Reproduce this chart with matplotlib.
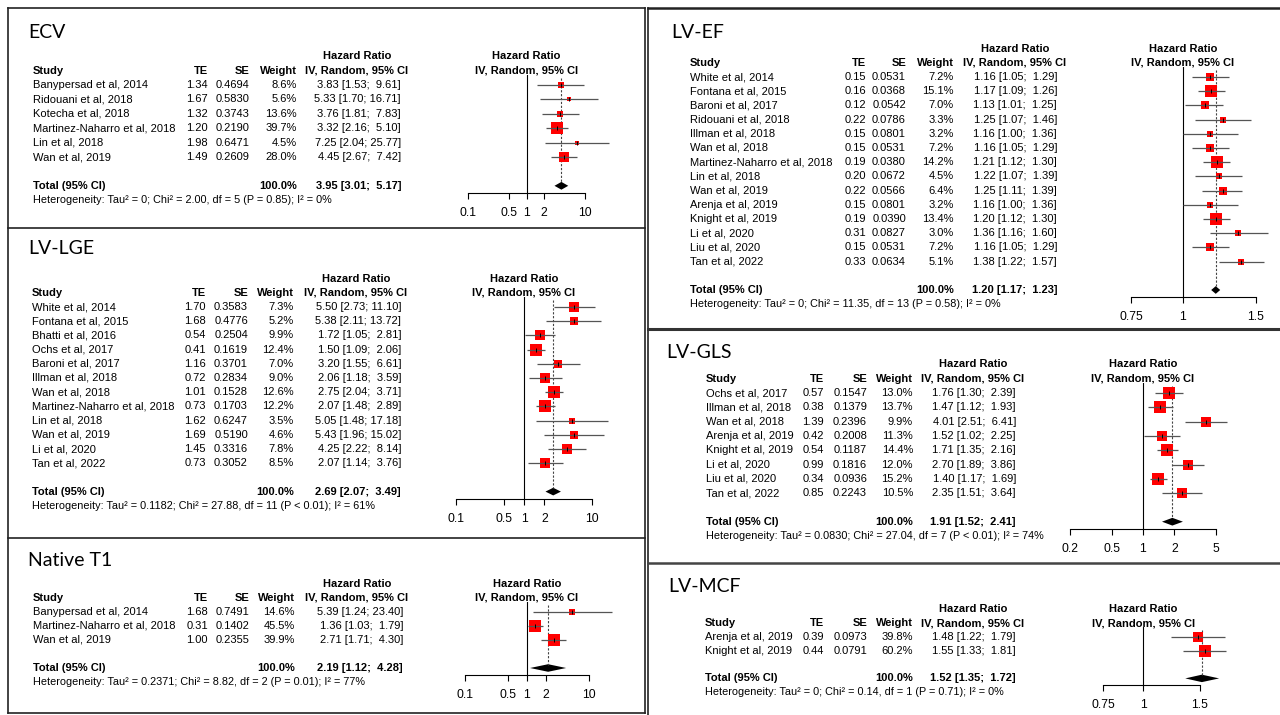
import numpy as np
import matplotlib.pyplot as plt
from matplotlib import transforms
from matplotlib.lines import Line2D
from matplotlib.ticker import NullLocator

plt.rcParams['font.family'] = ['Liberation Sans', 'DejaVu Sans']

W, H = 1280, 715

# ---------------- data ----------------
ecv_study = ["Banypersad et al, 2014", "Ridouani et al, 2018", "Kotecha et al, 2018",
             "Martinez-Naharro et al, 2018", "Lin et al, 2018", "Wan et al, 2019"]
ecv_te = [1.34, 1.67, 1.32, 1.20, 1.98, 1.49]
ecv_se = [0.4694, 0.5830, 0.3743, 0.2190, 0.6471, 0.2609]
ecv_weight = [8.6, 5.6, 13.6, 39.7, 4.5, 28.0]
ecv_hr = [3.83, 5.33, 3.76, 3.32, 7.25, 4.45]
ecv_lo = [1.53, 1.70, 1.81, 2.16, 2.04, 2.67]
ecv_hi = [9.61, 16.71, 7.83, 5.10, 25.77, 7.42]
ecv_total = [3.95, 3.01, 5.17]
ecv_het = "Heterogeneity: Tau² = 0; Chi² = 2.00, df = 5 (P = 0.85); I² = 0%"

lge_study = ["White et al, 2014", "Fontana et al, 2015", "Bhatti et al, 2016", "Ochs et al, 2017",
             "Baroni et al, 2017", "Illman et al, 2018", "Wan et al, 2018",
             "Martinez-Naharro et al, 2018", "Lin et al, 2018", "Wan et al, 2019",
             "Li et al, 2020", "Tan et al, 2022"]
lge_te = [1.70, 1.68, 0.54, 0.41, 1.16, 0.72, 1.01, 0.73, 1.62, 1.69, 1.45, 0.73]
lge_se = [0.3583, 0.4776, 0.2504, 0.1619, 0.3701, 0.2834, 0.1528, 0.1703, 0.6247, 0.5190, 0.3316, 0.3052]
lge_weight = [7.3, 5.2, 9.9, 12.4, 7.0, 9.0, 12.6, 12.2, 3.5, 4.6, 7.8, 8.5]
lge_hr = [5.50, 5.38, 1.72, 1.50, 3.20, 2.06, 2.75, 2.07, 5.05, 5.43, 4.25, 2.07]
lge_lo = [2.73, 2.11, 1.05, 1.09, 1.55, 1.18, 2.04, 1.48, 1.48, 1.96, 2.22, 1.14]
lge_hi = [11.10, 13.72, 2.81, 2.06, 6.61, 3.59, 3.71, 2.89, 17.18, 15.02, 8.14, 3.76]
lge_total = [2.69, 2.07, 3.49]
lge_het = "Heterogeneity: Tau² = 0.1182; Chi² = 27.88, df = 11 (P < 0.01); I² = 61%"

t1_study = ["Banypersad et al, 2014", "Martinez-Naharro et al, 2018", "Wan et al, 2019"]
t1_te = [1.68, 0.31, 1.00]
t1_se = [0.7491, 0.1402, 0.2355]
t1_weight = [14.6, 45.5, 39.9]
t1_hr = [5.39, 1.36, 2.71]
t1_lo = [1.24, 1.03, 1.71]
t1_hi = [23.40, 1.79, 4.30]
t1_total = [2.19, 1.12, 4.28]
t1_het = "Heterogeneity: Tau² = 0.2371; Chi² = 8.82, df = 2 (P = 0.01); I² = 77%"

ef_study = ["White et al, 2014", "Fontana et al, 2015", "Baroni et al, 2017", "Ridouani et al, 2018",
            "Illman et al, 2018", "Wan et al, 2018", "Martinez-Naharro et al, 2018", "Lin et al, 2018",
            "Wan et al, 2019", "Arenja et al, 2019", "Knight et al, 2019", "Li et al, 2020",
            "Liu et al, 2020", "Tan et al, 2022"]
ef_te = [0.15, 0.16, 0.12, 0.22, 0.15, 0.15, 0.19, 0.20, 0.22, 0.15, 0.19, 0.31, 0.15, 0.33]
ef_se = [0.0531, 0.0368, 0.0542, 0.0786, 0.0801, 0.0531, 0.0380, 0.0672, 0.0566, 0.0801, 0.0390,
         0.0827, 0.0531, 0.0634]
ef_weight = [7.2, 15.1, 7.0, 3.3, 3.2, 7.2, 14.2, 4.5, 6.4, 3.2, 13.4, 3.0, 7.2, 5.1]
ef_hr = [1.16, 1.17, 1.13, 1.25, 1.16, 1.16, 1.21, 1.22, 1.25, 1.16, 1.20, 1.36, 1.16, 1.38]
ef_lo = [1.05, 1.09, 1.01, 1.07, 1.00, 1.05, 1.12, 1.07, 1.11, 1.00, 1.12, 1.16, 1.05, 1.22]
ef_hi = [1.29, 1.26, 1.25, 1.46, 1.36, 1.29, 1.30, 1.39, 1.39, 1.36, 1.30, 1.60, 1.29, 1.57]
ef_total = [1.20, 1.17, 1.23]
ef_het = "Heterogeneity: Tau² = 0; Chi² = 11.35, df = 13 (P = 0.58); I² = 0%"

gls_study = ["Ochs et al, 2017", "Illman et al, 2018", "Wan et al, 2018", "Arenja et al, 2019",
             "Knight et al, 2019", "Li et al, 2020", "Liu et al, 2020", "Tan et al, 2022"]
gls_te = [0.57, 0.38, 1.39, 0.42, 0.54, 0.99, 0.34, 0.85]
gls_se = [0.1547, 0.1379, 0.2396, 0.2008, 0.1187, 0.1816, 0.0936, 0.2243]
gls_weight = [13.0, 13.7, 9.9, 11.3, 14.4, 12.0, 15.2, 10.5]
gls_hr = [1.76, 1.47, 4.01, 1.52, 1.71, 2.70, 1.40, 2.35]
gls_lo = [1.30, 1.12, 2.51, 1.02, 1.35, 1.89, 1.17, 1.51]
gls_hi = [2.39, 1.93, 6.41, 2.25, 2.16, 3.86, 1.69, 3.64]
gls_total = [1.91, 1.52, 2.41]
gls_het = "Heterogeneity: Tau² = 0.0830; Chi² = 27.04, df = 7 (P < 0.01); I² = 74%"

mcf_study = ["Arenja et al, 2019", "Knight et al, 2019"]
mcf_te = [0.39, 0.44]
mcf_se = [0.0973, 0.0791]
mcf_weight = [39.8, 60.2]
mcf_hr = [1.48, 1.55]
mcf_lo = [1.22, 1.33]
mcf_hi = [1.79, 1.81]
mcf_total = [1.52, 1.35, 1.72]
mcf_het = "Heterogeneity: Tau² = 0; Chi² = 0.14, df = 1 (P = 0.71); I² = 0%"

wide_ticks = [0.1, 0.5, 1, 2, 10]
ef_ticks = [0.75, 1, 1.5]
gls_ticks = [0.2, 0.5, 1, 2, 5]

# ---------------- drawing ----------------
fig = plt.figure(figsize=(12.8, 7.15), dpi=100)
FS = 8.0


def fx(x):
    return x / W


def fy(y):
    return 1 - y / H


def draw_panel(title, study, te, se, weight, hr, lo, hi, total, het, ticks, lay):
    n = len(study)
    y1, step = lay['row1'], lay['step']
    top_row, bot_row = 0.3, n + 2.5
    ax_top = y1 + (top_row - 1) * step
    ax_bot = y1 + (bot_row - 1) * step
    (t0, p0), (t1, p1) = lay['tickpx']
    ppd = (p1 - p0) / (np.log10(t1) - np.log10(t0))
    xa, xb = lay['forest']
    ax = fig.add_axes([fx(xa), fy(ax_bot), (xb - xa) / W, (ax_bot - ax_top) / H])
    ax.set_facecolor('none')
    ax.set_xscale('log')
    ax.set_xlim(10 ** (np.log10(t0) + (xa - p0) / ppd), 10 ** (np.log10(t0) + (xb - p0) / ppd))
    ax.set_ylim(bot_row, top_row)
    for s in ['top', 'left', 'right']:
        ax.spines[s].set_visible(False)
    ax.spines['bottom'].set_bounds(ticks[0], ticks[-1])
    ax.spines['bottom'].set_linewidth(0.8)
    ax.set_yticks([])
    ax.set_xticks(ticks)
    ax.set_xticklabels([f"{t:g}" for t in ticks])
    ax.xaxis.set_minor_locator(NullLocator())
    ax.tick_params(axis='x', direction='out', length=4, width=0.8, pad=6, labelsize=FS + 0.8)

    rows = np.arange(1, n + 1)
    wmax = max(weight)
    ax.axvline(1, color='black', lw=0.8)
    ax.plot([total[0], total[0]], [0.5, n + 1.75], color='#444444', lw=0.8, ls=(0, (2, 1.5)))
    for r, h, w in zip(rows, hr, weight):
        ax.plot(h, r, 's', color='#ff0000', mew=0, ms=8.6 * np.sqrt(w / wmax))
    ax.hlines(rows, lo, hi, color='#555555', lw=0.9, clip_on=False)
    ax.plot(hr, rows, '|', color='black', ms=2.5, mew=0.7)
    tr_, tl_, th_ = total
    ax.fill([tl_, tr_, th_, tr_], [n + 2, n + 2 - 0.27, n + 2, n + 2 + 0.27], color='black', lw=0)

    tr = transforms.blended_transform_factory(fig.transFigure, ax.transData)

    def put(x, row, s, ha='left', bold=False, size=FS):
        ax.text(fx(x), row, s, transform=tr, ha=ha, va='center', fontsize=size,
                fontweight='bold' if bold else 'normal', clip_on=False)

    fig.text(fx(lay['title'][0]), fy(lay['title'][1]), title, fontsize=14,
             family=['Lato', 'DejaVu Sans'], va='center', ha='left')
    c = lay['cols']
    put(c[5], -1, "Hazard Ratio", ha='center', bold=True)
    put(c[5], 0, "IV, Random, 95% CI", ha='center', bold=True)
    put(c[0], 0, "Study", bold=True)
    put(c[1], 0, "TE", ha='right', bold=True)
    put(c[2], 0, "SE", ha='right', bold=True)
    put(c[3], 0, "Weight", ha='right', bold=True)
    fcx = p0 + (0 - np.log10(t0)) * ppd
    put(fcx, -1, "Hazard Ratio", ha='center', bold=True)
    put(fcx, 0, "IV, Random, 95% CI", ha='center', bold=True)
    for r, s_, a, b, w, h, l, u in zip(rows, study, te, se, weight, hr, lo, hi):
        put(c[0], r, s_)
        put(c[1], r, f"{a:.2f}", ha='right')
        put(c[2], r, f"{b:.4f}", ha='right')
        put(c[3], r, f"{w:.1f}%", ha='right')
        put(c[4], r, f"{h:.2f} [{l:.2f}; {u:5.2f}]", ha='right')
    put(c[0], n + 2, "Total (95% CI)", bold=True)
    put(c[3], n + 2, f"{sum(weight):.1f}%", ha='right', bold=True)
    put(c[4], n + 2, f"{tr_:.2f} [{tl_:.2f}; {th_:5.2f}]", ha='right', bold=True)
    put(c[0], n + 3, het, size=FS - 0.2)
    return ax


# cols: study left, TE right, SE right, Weight right, CI right, CI header centre
draw_panel("ECV", ecv_study, ecv_te, ecv_se, ecv_weight, ecv_hr, ecv_lo, ecv_hi, ecv_total, ecv_het,
           wide_ticks, dict(title=(28, 33), cols=[33, 208, 249, 297, 401, 357], row1=85, step=14.4,
                            tickpx=((0.1, 468), (10, 585)), forest=(455, 625)))
draw_panel("LV-LGE", lge_study, lge_te, lge_se, lge_weight, lge_hr, lge_lo, lge_hi, lge_total, lge_het,
           wide_ticks, dict(title=(28, 249), cols=[32, 206, 248, 294, 401, 356], row1=307, step=14.2,
                            tickpx=((0.1, 456), (10, 592)), forest=(445, 625)))
draw_panel("Native T1", t1_study, t1_te, t1_se, t1_weight, t1_hr, t1_lo, t1_hi, t1_total, t1_het,
           wide_ticks, dict(title=(28, 560), cols=[33, 208, 249, 295, 403, 357], row1=612, step=14.0,
                            tickpx=((0.1, 465), (10, 589)), forest=(455, 625)))
draw_panel("LV-EF", ef_study, ef_te, ef_se, ef_weight, ef_hr, ef_lo, ef_hi, ef_total, ef_het,
           ef_ticks, dict(title=(671, 32), cols=[690, 866, 906, 954, 1057, 1015], row1=77, step=14.2,
                          tickpx=((0.75, 1131), (1.5, 1256)), forest=(1120, 1275)))
draw_panel("LV-GLS", gls_study, gls_te, gls_se, gls_weight, gls_hr, gls_lo, gls_hi, gls_total, gls_het,
           gls_ticks, dict(title=(666, 352), cols=[706, 824, 867, 913, 1016, 973], row1=393, step=14.3,
                           tickpx=((0.2, 1070), (5, 1216)), forest=(1060, 1240)))
draw_panel("LV-MCF", mcf_study, mcf_te, mcf_se, mcf_weight, mcf_hr, mcf_lo, mcf_hi, mcf_total, mcf_het,
           ef_ticks, dict(title=(668, 587), cols=[705, 824, 867, 913, 1016, 973], row1=637, step=13.8,
                          tickpx=((0.75, 1103), (1.5, 1200)), forest=(1090, 1240)))


# panel borders
def hline(y, x0, x1, lw=1.2, color='#222222'):
    fig.add_artist(Line2D([fx(x0), fx(x1)], [fy(y), fy(y)], lw=lw, color=color))


def vline(x, y0, y1, lw=1.2, color='#222222'):
    fig.add_artist(Line2D([fx(x), fx(x)], [fy(y0), fy(y1)], lw=lw, color=color))


hline(8, 8, 645)
hline(228, 8, 645)
hline(538, 8, 645)
hline(713, 8, 645)
vline(8, 8, 713)
vline(645, 8, 713)
hline(8, 648, 1280, lw=1.8)
vline(648, 8, 715)
hline(329, 648, 1280, lw=2.2, color='#333333')
hline(563, 648, 1280, lw=1.8, color='#444444')

fig.savefig("out.png", dpi=100)
